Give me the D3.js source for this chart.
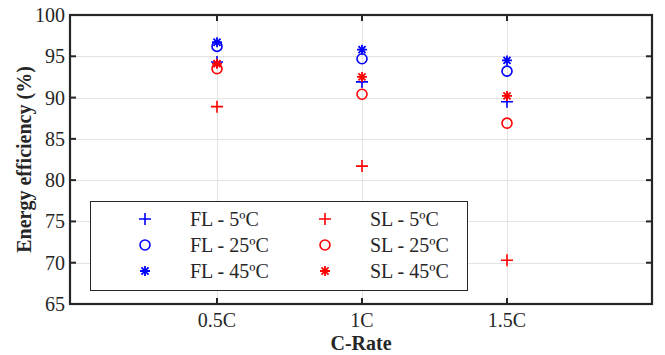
<!DOCTYPE html>
<html lang="en">
<head>
<meta charset="UTF-8">
<title>Energy efficiency vs C-Rate</title>
<script src="https://cdn.jsdelivr.net/npm/d3@7"></script>
<style>
  body { margin: 0; background: #fff; }
  text { font-family: "Liberation Serif", "Times New Roman", serif; fill: #262626; }
</style>
</head>
<body>
<script>
// categories and tick labels
var rates = [1, 2, 3];
var rateLabels = ["0.5C", "1C", "1.5C"];
var yTicks = [65, 70, 75, 80, 85, 90, 95, 100];

// series values (energy efficiency, %)
var fl5  = [94.3, 91.9, 89.5];
var fl25 = [96.2, 94.7, 93.2];
var fl45 = [96.7, 95.8, 94.5];
var sl5  = [88.9, 81.7, 70.3];
var sl25 = [93.5, 90.4, 86.9];
var sl45 = [94.1, 92.5, 90.2];

var series = [
  {name: "FL - 5ºC",  vals: fl5,  color: "#0000ff", shape: "plus"},
  {name: "FL - 25ºC", vals: fl25, color: "#0000ff", shape: "circle"},
  {name: "FL - 45ºC", vals: fl45, color: "#0000ff", shape: "star"},
  {name: "SL - 5ºC",  vals: sl5,  color: "#ff0000", shape: "plus"},
  {name: "SL - 25ºC", vals: sl25, color: "#ff0000", shape: "circle"},
  {name: "SL - 45ºC", vals: sl45, color: "#ff0000", shape: "star"}
];

var W = 665, H = 355;
var pl = 70, pr = 652, pt = 15, pb = 304;
var fs = 20;

var svg = d3.select("body").append("svg").attr("width", W).attr("height", H);

var x = d3.scaleLinear().domain([0, 4]).range([pl + 2, pr]);
var y = d3.scaleLinear().domain([65, 100]).range([pb, pt]);

// grid
var grid = svg.append("g").attr("stroke", "#e3e3e3").attr("stroke-width", 1);
grid.selectAll(".gy").data(yTicks.slice(1, -1)).enter().append("line")
  .attr("x1", pl).attr("x2", pr)
  .attr("y1", function(d) { return Math.round(y(d)) + 0.5; })
  .attr("y2", function(d) { return Math.round(y(d)) + 0.5; });
grid.selectAll(".gx").data(rates).enter().append("line")
  .attr("y1", pt).attr("y2", pb)
  .attr("x1", function(d) { return Math.round(x(d)) + 0.5; })
  .attr("x2", function(d) { return Math.round(x(d)) + 0.5; });

// markers
function drawMarker(g, shape, color, cx, cy) {
  if (shape === "plus") {
    g.append("path").attr("d", "M" + (cx - 6) + "," + cy + "H" + (cx + 6) + "M" + cx + "," + (cy - 6) + "V" + (cy + 6))
      .attr("stroke", color).attr("stroke-width", 1.6).attr("fill", "none");
  } else if (shape === "circle") {
    g.append("circle").attr("cx", cx).attr("cy", cy).attr("r", 5)
      .attr("stroke", color).attr("stroke-width", 1.6).attr("fill", "none");
  } else {
    var r = 5, d = "";
    [0, 45, 90, 135].forEach(function(a) {
      var t = a * Math.PI / 180;
      d += "M" + (cx - r * Math.cos(t)) + "," + (cy - r * Math.sin(t)) + "L" + (cx + r * Math.cos(t)) + "," + (cy + r * Math.sin(t));
    });
    g.append("path").attr("d", d).attr("stroke", color).attr("stroke-width", 1.8).attr("fill", "none");
  }
}

var marks = svg.append("g");
series.forEach(function(s) {
  s.vals.forEach(function(v, i) {
    drawMarker(marks, s.shape, s.color, x(rates[i]), y(v));
  });
});

// axes box
var ax = svg.append("g");
ax.append("rect").attr("x", pl).attr("y", pt).attr("width", pr - pl).attr("height", pb - pt)
  .attr("fill", "none").attr("stroke", "#262626").attr("stroke-width", 2.2);

// ticks inward
var tk = ax.append("g").attr("stroke", "#262626").attr("stroke-width", 2);
tk.selectAll(".tyl").data(yTicks).enter().append("line")
  .attr("x1", pl).attr("x2", pl + 6).attr("y1", function(d) { return y(d); }).attr("y2", function(d) { return y(d); });
tk.selectAll(".tyr").data(yTicks).enter().append("line")
  .attr("x1", pr).attr("x2", pr - 6).attr("y1", function(d) { return y(d); }).attr("y2", function(d) { return y(d); });
tk.selectAll(".txb").data(rates).enter().append("line")
  .attr("y1", pb).attr("y2", pb - 6).attr("x1", function(d) { return x(d); }).attr("x2", function(d) { return x(d); });
tk.selectAll(".txt").data(rates).enter().append("line")
  .attr("y1", pt).attr("y2", pt + 6).attr("x1", function(d) { return x(d); }).attr("x2", function(d) { return x(d); });

// tick labels
ax.selectAll(".yl").data(yTicks).enter().append("text")
  .attr("x", pl - 5).attr("y", function(d) { return y(d); }).attr("dy", "0.35em")
  .attr("text-anchor", "end").attr("font-size", fs).text(function(d) { return d; });
ax.selectAll(".xl").data(rates).enter().append("text")
  .attr("x", function(d) { return x(d); }).attr("y", pb + 23)
  .attr("text-anchor", "middle").attr("font-size", fs).text(function(d, i) { return rateLabels[i]; });

// axis titles
svg.append("text").attr("x", (pl + pr) / 2).attr("y", 350).attr("text-anchor", "middle")
  .attr("font-size", fs).attr("font-weight", "bold").text("C-Rate");
svg.append("text").attr("transform", "translate(31," + ((pt + pb) / 2) + ") rotate(-90)")
  .attr("text-anchor", "middle").attr("font-size", fs).attr("font-weight", "bold").text("Energy efficiency (%)");

// legend
var lg = svg.append("g");
lg.append("rect").attr("x", 90.5).attr("y", 201.5).attr("width", 377).attr("height", 89)
  .attr("fill", "#fff").attr("stroke", "#262626").attr("stroke-width", 1);
series.forEach(function(s, i) {
  var col = Math.floor(i / 3), row = i % 3;
  var mx = col === 0 ? 145 : 325, ty = 219 + row * 26;
  drawMarker(lg, s.shape, s.color, mx, ty);
  lg.append("text").attr("x", mx + 45).attr("y", ty).attr("dy", "0.35em")
    .attr("font-size", fs).text(s.name);
});
</script>
</body>
</html>
